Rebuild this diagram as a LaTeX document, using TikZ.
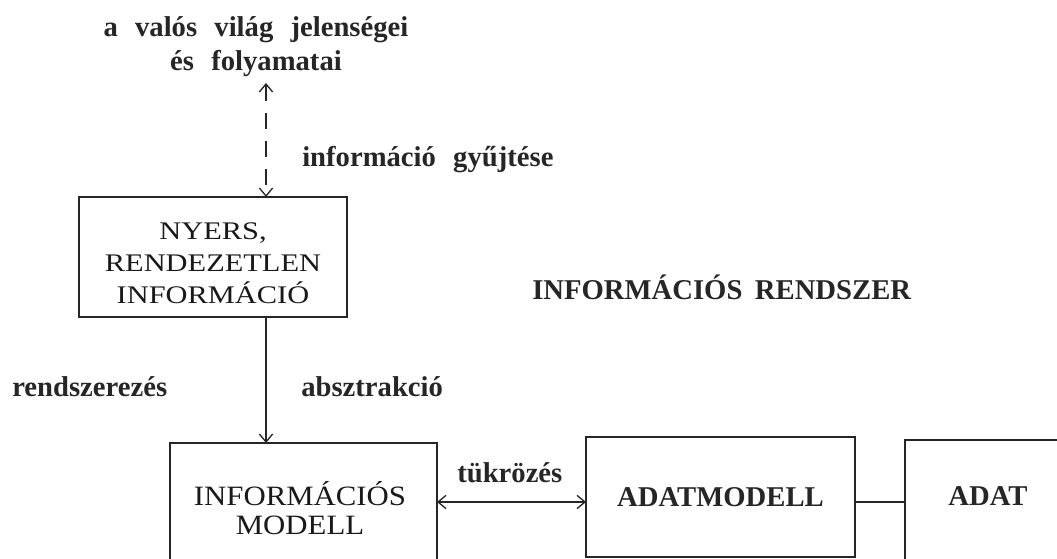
\documentclass[tikz,border=0pt]{standalone}
\usepackage{fontspec}
\setmainfont{Liberation Serif}
\newfontfamily\lblfont{Liberation Serif}[WordSpace=2.4]
\newfontfamily\boxfont{Liberation Serif}[FakeStretch=1.2]
\newfontfamily\modelfont{Liberation Serif}[FakeStretch=1.1]
\usetikzlibrary{arrows.meta}
\newcommand\pxu{0.75pt}
\begin{document}
\begin{tikzpicture}[x=0.75pt,y=-0.75pt,
  lbl/.style={font=\lblfont\bfseries\fontsize{21.5}{25.5}\selectfont, inner sep=0pt, text=black!85},
  caps/.style={font=\bfseries\fontsize{21.5}{25.5}\selectfont, inner sep=0pt, text=black!85},
  boxtxt/.style={font=\boxfont\fontsize{19}{24}\selectfont, align=center, inner sep=0pt, text=black!90},
  modeltxt/.style={font=\modelfont\fontsize{21}{17.5}\selectfont, align=center, inner sep=0pt, text=black!90},
  framebox/.style={draw=black!85, line width=1.3pt, inner sep=0pt, outer sep=0pt},
  conn/.style={draw=black!85, line width=1pt},
  dashline/.style={dash pattern=on 12pt off 9pt}
]
\clip (0,0) rectangle (1057,559);
\fill[white] (0,0) rectangle (1057,559);

% top text
\node[lbl, align=center] (world) at (256,47) {a valós világ jelenségei\\és folyamatai};
\coordinate (wtop) at (266,83);

% boxes
\node[framebox, minimum width=268*\pxu, minimum height=120*\pxu] (nyers) at (213,257) {};
\node[boxtxt] (nyerstext) at (213,263) {NYERS,\\RENDEZETLEN\\INFORMÁCIÓ};

\node[framebox, minimum width=267*\pxu, minimum height=160*\pxu] (infobox) at (303.5,523) {};
\node[modeltxt] (infotext) at (300,508) {INFORMÁCIÓS\\[4pt]MODELL};

\node[framebox, caps, minimum width=269*\pxu, minimum height=120*\pxu] (adatmodell) at (720.5,497) {ADATMODELL};

\node[framebox, minimum width=200*\pxu, minimum height=160*\pxu] (adat) at (1005,520) {};
\node[caps, anchor=base] (adattext) at (988,505) {ADAT};

% labels
\node[lbl, anchor=base west] (gyujt) at (302,167) {információ gyűjtése};
\node[lbl, anchor=base west] (rendsz) at (12,397) {rendszerezés};
\node[lbl, anchor=base west] (absztr) at (301,397) {absztrakció};
\node[caps, anchor=base west] (irendszer) at (532,300) {INFORMÁCIÓS\hspace{4pt} RENDSZER};
\node[lbl, anchor=base west] (tukr) at (457,483) {tükrözés};

\coordinate (ty) at (500,502);

% connectors
\draw[conn, dashline, {Straight Barb[length=6pt,width=10pt]}-{Straight Barb[length=6pt,width=10pt]}] (wtop) -- (wtop |- nyers.north);
\draw[conn, -{Straight Barb[length=6pt,width=10pt]}] (nyers.south -| wtop) -- (infobox.north -| wtop);
\draw[conn, {Straight Barb[length=6pt,width=10pt]}-{Straight Barb[length=6pt,width=10pt]}] (infobox.east |- ty) -- (adatmodell.west |- ty);
\draw[conn, line width=1.3pt] (adatmodell.east |- ty) -- (adat.west |- ty);
\end{tikzpicture}
\end{document}
